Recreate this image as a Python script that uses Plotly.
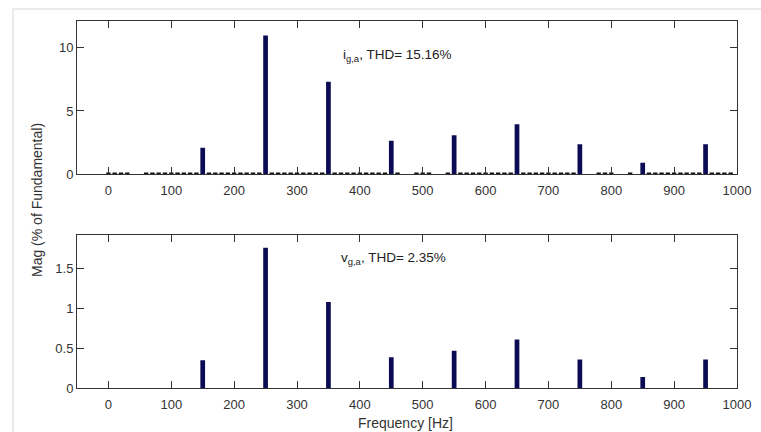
import plotly.graph_objects as go

# Harmonic frequencies [Hz]
harm_freq = [150, 250, 350, 450, 550, 650, 750, 850, 950]
# Current spectrum (% of fundamental)
i_mag = [2.1, 10.95, 7.3, 2.65, 3.08, 3.95, 2.37, 0.92, 2.37]
# Voltage spectrum (% of fundamental)
v_mag = [0.35, 1.76, 1.08, 0.39, 0.47, 0.61, 0.36, 0.14, 0.36]

# Low-level spectral content of the current (10 Hz bins)
noise_freq = [0, 10, 20, 30, 60, 70, 80, 90, 100, 110, 120, 130, 140, 160, 170, 180, 190,
              200, 210, 220, 230, 240, 260, 270, 280, 290, 300, 310, 320, 330, 340,
              360, 370, 380, 390, 400, 410, 420, 430, 440, 460, 490, 500, 510, 540,
              560, 570, 580, 590, 600, 610, 620, 630, 640, 660, 670, 680, 690, 700,
              710, 720, 730, 740, 780, 790, 800, 830, 860, 870, 880, 890, 900, 910,
              920, 930, 940, 960, 970, 980, 990]
noise_mag = [0.15] * len(noise_freq)

x_ticks = [0, 100, 200, 300, 400, 500, 600, 700, 800, 900, 1000]
y1_ticks = [0, 5, 10]
y2_ticks = [0, 0.5, 1, 1.5]
y2_ticklabels = ["0", "0.5", "1", "1.5"]

BAR = "#0c0c55"
W = 761
H = 432
FAM = "Liberation Sans, Arial, sans-serif"
tickfont = dict(family=FAM, size=13, color="#333333")
annfont = dict(family=FAM, size=13.5, color="#222222")
titlefont = dict(family=FAM, size=14, color="#333333")

fig = go.Figure()
fig.add_trace(go.Bar(x=noise_freq, y=noise_mag, width=7, marker=dict(color="#111111", line=dict(width=0)),
                     xaxis="x", yaxis="y", showlegend=False))
fig.add_trace(go.Bar(x=harm_freq, y=i_mag, width=7.5, marker=dict(color=BAR, line=dict(width=0)),
                     xaxis="x", yaxis="y", showlegend=False))
fig.add_trace(go.Bar(x=harm_freq, y=v_mag, width=7.5, marker=dict(color=BAR, line=dict(width=0)),
                     xaxis="x2", yaxis="y2", showlegend=False))

xd = [77 / W, 737 / W]
y1d = [1 - 174.3 / H, 1 - 21 / H]
y2d = [1 - 388.3 / H, 1 - 235 / H]

axcommon = dict(showgrid=False, zeroline=False, showline=True, linecolor="#333333", linewidth=1,
                mirror="allticks", ticks="inside", ticklen=7, tickcolor="#333333", tickwidth=1,
                tickfont=tickfont, automargin=False)

fig.update_layout(
    width=W, height=H,
    margin=dict(l=0, r=0, t=0, b=0, pad=0, autoexpand=False),
    paper_bgcolor="white", plot_bgcolor="white",
    barmode="overlay",
    xaxis=dict(domain=xd, range=[-50, 1000], tickvals=x_ticks, anchor="y", ticklabelstandoff=4, **axcommon),
    yaxis=dict(domain=y1d, range=[0, 12.1], tickvals=y1_ticks, anchor="x", **axcommon),
    xaxis2=dict(domain=xd, range=[-50, 1000], tickvals=x_ticks, anchor="y2", ticklabelstandoff=4, **axcommon),
    yaxis2=dict(domain=y2d, range=[0, 1.92], tickvals=y2_ticks, ticktext=y2_ticklabels, anchor="x2", **axcommon),
    font=tickfont,
)

fig.add_annotation(xref="paper", yref="paper", x=341 / W, y=1 - 55 / H, xanchor="left", yanchor="middle",
                   text="i<sub>g,a</sub>, THD= 15.16%", showarrow=False, font=annfont)
fig.add_annotation(xref="paper", yref="paper", x=339 / W, y=1 - 258 / H, xanchor="left", yanchor="middle",
                   text="v<sub>g,a</sub>, THD= 2.35%", showarrow=False, font=annfont)
fig.add_annotation(xref="paper", yref="paper", x=37 / W, y=1 - 200 / H, xanchor="center", yanchor="middle",
                   text="Mag (% of Fundamental)", textangle=-90, showarrow=False, font=titlefont)
fig.add_annotation(xref="paper", yref="paper", x=405 / W, y=1 - 423 / H, xanchor="center", yanchor="middle",
                   text="Frequency [Hz]", showarrow=False, font=titlefont)

# light screenshot frame
fig.add_shape(type="line", xref="paper", yref="paper", x0=13 / W, x1=1, y0=1 - 9 / H, y1=1 - 9 / H,
              line=dict(color="#d6d6d6", width=1))
fig.add_shape(type="line", xref="paper", yref="paper", x0=13 / W, x1=13 / W, y0=0, y1=1 - 9 / H,
              line=dict(color="#d6d6d6", width=1))

fig.write_html("out.html", config={"displayModeBar": False},
               post_script="document.body.style.margin='0';document.body.style.padding='0';"
                           "document.body.style.overflow='hidden';")
